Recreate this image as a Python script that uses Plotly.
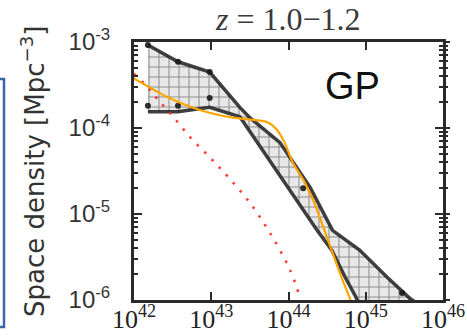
import plotly.graph_objects as go

# ---- data (log10 values) ----
band_upper_logL = [42.18, 42.57, 42.98, 43.37, 43.50, 43.89, 44.28, 44.57, 44.92, 45.27, 45.57, 45.75]
band_upper_logphi = [-3.035, -3.23, -3.35, -3.76, -3.88, -4.17, -4.69, -5.19, -5.42, -5.73, -5.98, -6.10]
band_lower_logL = [42.18, 42.57, 42.98, 43.37, 43.59, 43.99, 44.37, 44.56, 44.73, 44.88, 44.93]
band_lower_logphi = [-3.81, -3.81, -3.76, -3.87, -4.17, -4.69, -5.19, -5.42, -5.73, -5.98, -6.10]

dots_logL = [42.18, 42.57, 42.98, 42.18, 42.57, 42.98, 44.19, 45.47]
dots_logphi = [-3.035, -3.23, -3.35, -3.74, -3.74, -3.65, -4.70, -5.92]

orange_logL = [41.99, 42.43, 42.85, 43.28, 43.72, 43.85, 43.95, 44.06, 44.19, 44.32, 44.45, 44.57, 44.70, 44.79, 44.82]
orange_logphi = [-3.42, -3.64, -3.79, -3.88, -3.93, -4.02, -4.17, -4.41, -4.60, -4.84, -5.15, -5.45, -5.77, -5.97, -6.05]

red_logL = [42.0, 42.17, 42.31, 42.49, 42.72, 42.98, 43.22, 43.50, 43.76, 44.02, 44.13]
red_logphi = [-3.37, -3.52, -3.67, -3.85, -4.10, -4.34, -4.57, -4.87, -5.22, -5.65, -5.92]

x_tick_exp = [42, 43, 44, 45, 46]
y_tick_exp = [-3, -4, -5, -6]

title_text = "<i>z</i> = 1.0\u22121.2"
panel_label = "GP"
y_title = "Space density [Mpc<sup>\u22123</sup>]"

# ---- figure ----
def p(v):
    return [10.0 ** a for a in v]

fig = go.Figure()

poly_x = p(band_upper_logL) + p(band_lower_logL[::-1])
poly_y = p(band_upper_logphi) + p(band_lower_logphi[::-1])
fig.add_trace(go.Scatter(
    x=poly_x, y=poly_y, mode="lines", fill="toself",
    fillcolor="rgba(200,200,200,0.5)",
    fillpattern=dict(shape="+", size=10, solidity=0.2,
                     fgcolor="rgba(20,20,20,0.85)", bgcolor="rgba(210,210,210,0.5)"),
    line=dict(color="rgba(30,30,30,0.85)", width=3.5),
    hoverinfo="skip"))

fig.add_trace(go.Scatter(
    x=p(dots_logL), y=p(dots_logphi), mode="markers",
    marker=dict(color="rgba(25,25,25,0.9)", size=6), hoverinfo="skip"))

fig.add_trace(go.Scatter(
    x=p(red_logL), y=p(red_logphi), mode="lines", line_shape="spline",
    line=dict(color="rgba(255,40,40,0.9)", width=2.6, dash="2.5px,8px"),
    hoverinfo="skip"))

fig.add_trace(go.Scatter(
    x=p(orange_logL), y=p(orange_logphi), mode="lines",
    line=dict(color="#FFA500", width=2.2, shape="spline", smoothing=0.6), hoverinfo="skip"))

# invisible trace for the right-side outward ticks
fig.add_trace(go.Scatter(x=[1e43], y=[1e-4], yaxis="y2", mode="markers",
                         marker=dict(opacity=0), hoverinfo="skip"))

axis_col = "#2a2a2a"
fig.update_layout(
    width=467, height=336, autosize=False,
    margin=dict(l=134, r=24, t=42, b=36),
    plot_bgcolor="white", paper_bgcolor="white",
    showlegend=False,
    xaxis=dict(
        type="log", range=[42, 46], automargin=False,
        tickvals=[10.0 ** e for e in x_tick_exp],
        ticktext=["10<sup>%d</sup>" % e for e in x_tick_exp],
        ticks="inside", ticklen=8, tickwidth=2, tickcolor=axis_col,
        showline=True, linewidth=3, linecolor=axis_col, mirror="ticks",
        showgrid=False, zeroline=False,
        tickfont=dict(family="Liberation Serif, DejaVu Serif, serif", size=26, color="#222"),
        ticklabelstandoff=-6,
    ),
    yaxis=dict(
        type="log", range=[-6, -3], automargin=False,
        tickvals=[10.0 ** e for e in y_tick_exp],
        ticktext=["10<sup>%d</sup>" % e for e in y_tick_exp],
        ticks="inside", ticklen=8, tickwidth=2, tickcolor=axis_col,
        minor=dict(ticks="inside", ticklen=4, tickwidth=1.5, tickcolor=axis_col, dtick="D1", showgrid=False),
        showline=True, linewidth=3, linecolor=axis_col, mirror="ticks",
        showgrid=False, zeroline=False,
        tickfont=dict(family="Liberation Sans, Arial, sans-serif", size=24, color="#333"),
        ticklabelstandoff=16,
    ),
    yaxis2=dict(
        type="log", range=[-6, -3], overlaying="y", side="right", automargin=False,
        tickvals=[10.0 ** e for e in y_tick_exp], showticklabels=False,
        ticks="outside", ticklen=6, tickwidth=2, tickcolor=axis_col,
        minor=dict(ticks="outside", ticklen=4, tickwidth=1.5, tickcolor=axis_col, dtick="D1", showgrid=False),
        showline=False, showgrid=False, zeroline=False,
    ),
)

fig.add_annotation(text=title_text, xref="paper", yref="paper",
                   x=0.497, y=(300 - 19) / 258, xanchor="center", yanchor="middle",
                   showarrow=False,
                   font=dict(family="Liberation Serif, DejaVu Serif, serif", size=32, color="#3a3a3a"))

fig.add_annotation(text=panel_label, xref="paper", yref="paper",
                   x=(352 - 134) / 309, y=(300 - 86) / 258, xanchor="center", yanchor="middle",
                   showarrow=False,
                   font=dict(family="Liberation Sans, Arial, sans-serif", size=38, color="#111"))

fig.add_annotation(text=y_title, xref="paper", yref="paper",
                   x=(33 - 134) / 309, y=(300 - 172) / 258, xanchor="center", yanchor="middle",
                   textangle=-90, showarrow=False,
                   font=dict(family="DejaVu Sans, sans-serif", size=26, color="#333"))

fig.add_shape(type="rect", xref="paper", yref="paper",
              x0=(-20 - 134) / 309, x1=(4 - 134) / 309,
              y0=(300 - 327) / 258, y1=(300 - 79) / 258,
              line=dict(color="#3b63a6", width=2.5), fillcolor="rgba(0,0,0,0)")

fig.write_html("out.html")
